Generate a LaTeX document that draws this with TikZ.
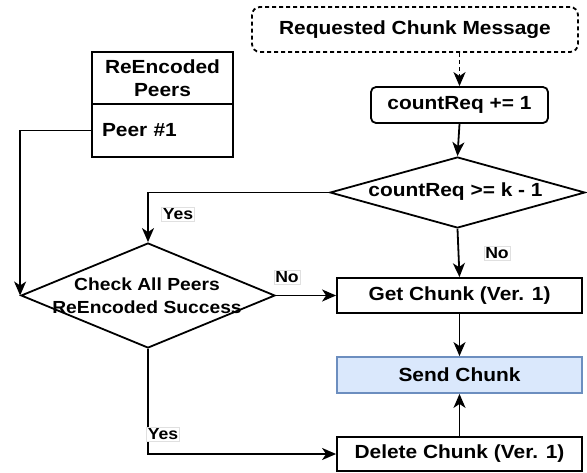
\documentclass[tikz,border=0pt]{standalone}
\usepackage{fontspec}
\setmainfont[FakeStretch=1.1]{Liberation Sans}
\usetikzlibrary{arrows.meta,shapes.geometric}
\definecolor{lc}{HTML}{000000}
\definecolor{sendfill}{HTML}{DAE8FC}
\definecolor{senddraw}{HTML}{6C8EBF}
\begin{document}
\begin{tikzpicture}[x=1pt,y=-1pt,
  base/.style={draw=lc, line width=1.8pt, font=\fontsize{19}{23.5}\selectfont\bfseries, inner sep=0pt, align=center, rectangle},
  box/.style={base, minimum width=245pt, minimum height=35pt},
  dia/.style={draw=lc, line width=1.8pt, diamond, inner sep=0pt},
  txt/.style={font=\fontsize{19}{23.5}\selectfont\bfseries, inner sep=0pt, align=center},
  arr/.style={draw=lc, line width=1.8pt, arrows={-Stealth[length=14pt,width=12pt,inset=4pt]}},
  lbl/.style={fill=white, draw=black!12, line width=0.4pt, inner sep=1.5pt, font=\fontsize{16}{19}\selectfont\bfseries}]
\useasboundingbox (0,0) rectangle (587,472);
% nodes
\node[base, dashed, dash pattern=on 4pt off 3pt, rounded corners=8pt, minimum width=326pt, minimum height=45pt] (req) at (415,29.5) {Requested Chunk Message};
\node[base, rounded corners=5pt, minimum width=177pt, minimum height=36pt] (cnt) at (459.5,105) {countReq += 1};
\node[dia, minimum width=255pt, minimum height=71pt] (dec1) at (457.5,192.5) {};
\node[txt] (dec1t) at (455.5,192) {countReq >= k - 1};
\node[box] (get) at (459.5,295.5) {Get Chunk (Ver. 1)};
\node[box, fill=sendfill, draw=senddraw, minimum height=36pt] (send) at (459.5,375) {Send Chunk};
\node[box, minimum height=34pt] (del) at (459.5,454) {Delete Chunk (Ver. 1)};
\node[base, minimum width=141pt, minimum height=52pt] (peersh) at (162.5,78) {ReEncoded\\Peers};
\node[base, minimum width=141pt, minimum height=53pt, text width=121pt, inner xsep=10pt, align=left] (peer1) at (162.5,130.5) {Peer \#1};
\node[dia, minimum width=254pt, minimum height=105pt] (check) at (148,295.5) {};
\node[txt, font=\fontsize{17.5}{23}\selectfont\bfseries] (checkt) at (147,296) {Check All Peers\\ReEncoded Success};
% connectors
\draw[arr, dash pattern=on 4pt off 3pt] (cnt.north |- req.south) -- (cnt.north);
\draw[arr] (cnt.south) -- (dec1.north);
\draw[arr] (dec1.west) -| (check.north);
\draw[arr] (dec1.south) -- (get.north);
\draw[arr] (peer1.west) -| (check.west);
\draw[arr] (check.east) -- (get.west);
\draw[arr] (check.south) |- (del.west);
\draw[arr] (get.south) -- (send.north);
\draw[arr] (del.north) -- (send.south);
% labels
\node[lbl] (yes1) at (178,214) {Yes};
\node[lbl] (no1) at (497,253) {No};
\node[lbl] (no2) at (287,277) {No};
\node[lbl] (yes2) at (163,434) {Yes};
\end{tikzpicture}
\end{document}
